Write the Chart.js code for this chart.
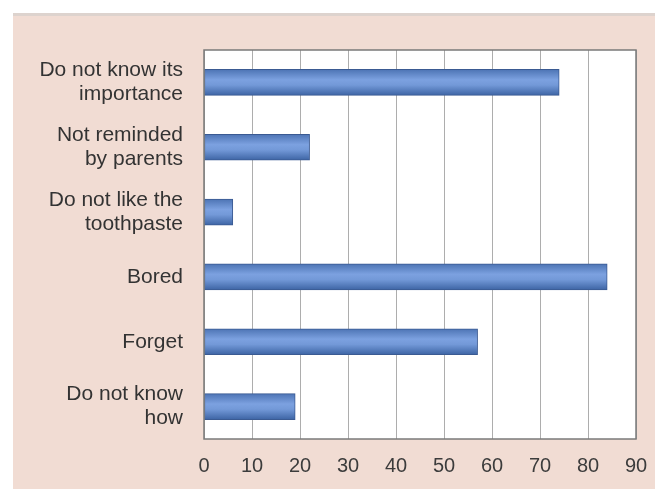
<!DOCTYPE html>
<html lang="en">
<head>
    <meta charset="UTF-8">
    <title>Reasons for not brushing</title>
    <script src="https://cdn.jsdelivr.net/npm/chart.js"></script>
    <style>
        html, body { margin: 0; padding: 0; background: #fff; }
        .chart-container { position: relative; width: 655px; height: 489px; }
    </style>
</head>
<body>
    <div class="chart-container">
        <canvas id="reasonsChart"></canvas>
    </div>

    <script>
        // Chart data
        const reasons = [
            ['Do not know its', 'importance'],
            ['Not reminded', 'by parents'],
            ['Do not like the', 'toothpaste'],
            'Bored',
            'Forget',
            ['Do not know', 'how']
        ];
        const counts = [74, 22, 6, 84, 57, 19];
        const xTicks = [0, 10, 20, 30, 40, 50, 60, 70, 80, 90];

        // Pink panel behind the chart, white plot area with a frame
        const panelPlugin = {
            id: 'panel',
            beforeDraw(chart) {
                const ctx = chart.ctx;
                const a = chart.chartArea;
                ctx.save();
                ctx.fillStyle = '#ffffff';
                ctx.fillRect(0, 0, chart.width, chart.height);
                ctx.fillStyle = '#f1dcd3';
                ctx.fillRect(13, 14, chart.width - 13, chart.height - 14);
                ctx.fillStyle = '#ddd3ce';
                ctx.fillRect(13, 13, chart.width - 13, 3);
                ctx.fillStyle = '#ffffff';
                ctx.fillRect(a.left, a.top, a.right - a.left, a.bottom - a.top);
                ctx.restore();
            },
            afterDatasetsDraw(chart) {
                const ctx = chart.ctx;
                const a = chart.chartArea;
                ctx.save();
                ctx.strokeStyle = '#7a7a7a';
                ctx.lineWidth = 1.5;
                ctx.strokeRect(a.left, a.top, a.right - a.left, a.bottom - a.top);
                ctx.restore();
            }
        };

        function barGradient(context) {
            const chart = context.chart;
            if (!chart.chartArea || !chart.scales.y) return '#6a90d0';
            const y = chart.scales.y.getPixelForValue(context.dataIndex);
            const g = chart.ctx.createLinearGradient(0, y - 13, 0, y + 13);
            g.addColorStop(0, '#4d74b4');
            g.addColorStop(0.4, '#7ca1e0');
            g.addColorStop(0.6, '#7399d8');
            g.addColorStop(1, '#3d64a4');
            return g;
        }

        const ctx = document.getElementById('reasonsChart').getContext('2d');
        new Chart(ctx, {
            type: 'bar',
            data: {
                labels: reasons,
                datasets: [{
                    data: counts,
                    backgroundColor: barGradient,
                    borderColor: '#3a5a92',
                    borderWidth: 1,
                    borderSkipped: false,
                    barThickness: 26
                }]
            },
            options: {
                indexAxis: 'y',
                responsive: true,
                maintainAspectRatio: false,
                animation: false,
                layout: { padding: { top: 50, right: 19, left: 0, bottom: 0 } },
                plugins: {
                    legend: { display: false },
                    tooltip: { enabled: false }
                },
                scales: {
                    x: {
                        min: 0,
                        max: 90,
                        afterBuildTicks: function(scale) {
                            scale.ticks = xTicks.map(v => ({ value: v }));
                        },
                        afterFit: function(scale) {
                            scale.height = 50;
                            // labels may hang over the edges, the padding covers them
                            scale.paddingLeft = 0;
                            scale.paddingRight = 0;
                        },
                        grid: { color: '#adadad', lineWidth: 1, drawTicks: false },
                        border: { display: false },
                        ticks: {
                            padding: 15,
                            color: '#3c3c3c',
                            font: { family: 'Liberation Sans', size: 20 }
                        }
                    },
                    y: {
                        afterFit: function(scale) { scale.width = 204; },
                        grid: { display: false, drawTicks: false },
                        border: { display: false },
                        ticks: {
                            padding: 21,
                            color: '#333333',
                            font: { family: 'Liberation Sans', size: 21, lineHeight: 1.14 }
                        }
                    }
                }
            },
            plugins: [panelPlugin]
        });
    </script>
</body>
</html>
